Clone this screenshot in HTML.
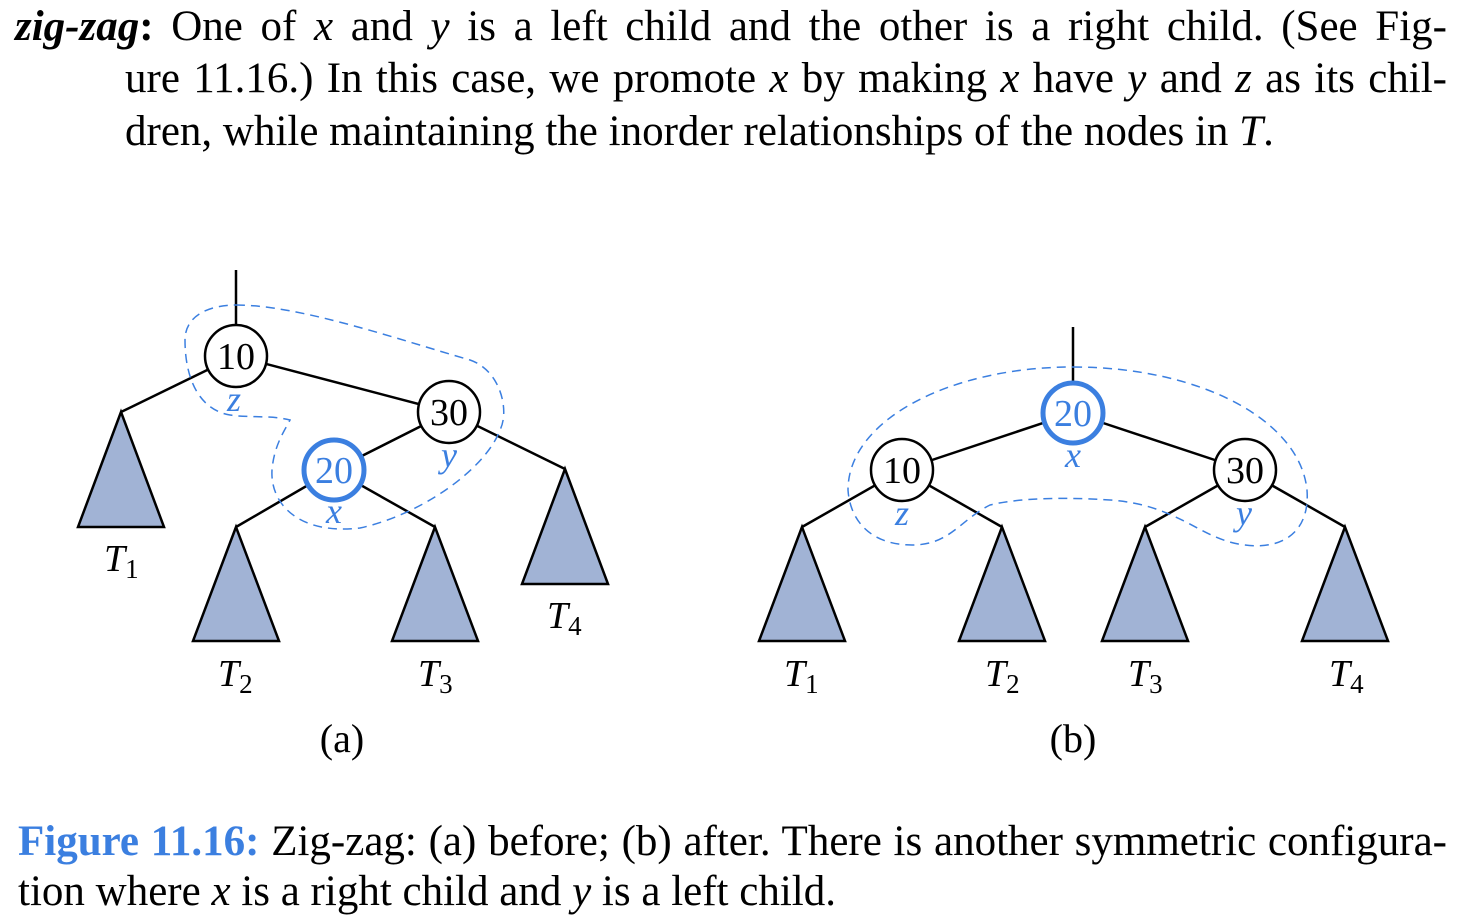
<!DOCTYPE html>
<html><head><meta charset="utf-8"><style>
html,body{margin:0;padding:0;background:#fff;}
body{width:1480px;height:914px;position:relative;overflow:hidden;font-family:"Liberation Serif",serif;color:#000;}
.l{position:absolute;font-size:43px;line-height:44px;white-space:nowrap;}
.j{text-align:justify;text-align-last:justify;white-space:normal;}
i{font-style:italic;}
.b{color:#3b7fe0;font-weight:bold;}
svg{position:absolute;left:0;top:0;}
</style></head><body>
<div class="l j" style="left:15px;top:5px;width:1432px;"><b><i>zig-zag</i>:</b> One of <i>x</i> and <i>y</i> is a left child and the other is a right child. (See Fig-</div>
<div class="l j" style="left:125px;top:57px;width:1322px;">ure 11.16.) In this case, we promote <i>x</i> by making <i>x</i> have <i>y</i> and <i>z</i> as its chil-</div>
<div class="l" style="left:125px;top:110px;">dren, while maintaining the inorder relationships of the nodes in <i>T</i>.</div>
<div class="l j" style="left:18px;top:820px;width:1429px;"><span class="b">Figure 11.16:</span> Zig-zag: (a) before; (b) after. There is another symmetric configura-</div>
<div class="l" style="left:18px;top:870px;">tion where <i>x</i> is a right child and <i>y</i> is a left child.</div>
<svg width="1480" height="914" viewBox="0 0 1480 914" font-family="Liberation Serif, serif">
<g stroke="#000" stroke-width="2.5" fill="none">
<line x1="236" y1="270" x2="236" y2="325"/>
<line x1="236" y1="356" x2="121" y2="412"/>
<line x1="236" y1="356" x2="449" y2="412"/>
<line x1="449" y1="412" x2="334" y2="470"/>
<line x1="449" y1="412" x2="565" y2="469"/>
<line x1="334" y1="470" x2="236" y2="527"/>
<line x1="334" y1="470" x2="435" y2="527"/>
<line x1="1073" y1="327" x2="1073" y2="382"/>
<line x1="1073" y1="413" x2="902" y2="470"/>
<line x1="1073" y1="413" x2="1245" y2="470"/>
<line x1="902" y1="470" x2="802" y2="527"/>
<line x1="902" y1="470" x2="1002" y2="527"/>
<line x1="1245" y1="470" x2="1145" y2="527"/>
<line x1="1245" y1="470" x2="1345" y2="527"/>
</g>
<g stroke="#000" stroke-width="2.5" fill="#a1b3d5">
<polygon points="121,412 78,527 164,527"/>
<polygon points="236,527 193,641 279,641"/>
<polygon points="435,527 392,641 478,641"/>
<polygon points="565,469 522,584 608,584"/>
<polygon points="802,527 759,641 845,641"/>
<polygon points="1002,527 959,641 1045,641"/>
<polygon points="1145,527 1102,641 1188,641"/>
<polygon points="1345,527 1302,641 1388,641"/>
</g>
<g fill="none" stroke="#3b7fe0" stroke-width="1.5" stroke-dasharray="9,6">
<path d="M236,305 C300,305 400,340 470,360 C500,370 510,410 500,430 C485,470 420,515 360,528 C300,535 270,505 272,470 C274,445 285,430 290,420 C270,415 250,418 230,415 C200,410 185,380 185,340 C185,315 210,305 236,305 Z"/>
<path d="M1073,367 C1200,367 1300,420 1307,490 C1310,530 1285,550 1245,545 C1200,540 1180,505 1110,500 C1050,496 1010,500 990,505 C960,520 950,545 912,545 C870,545 850,520 848,490 C848,420 950,367 1073,367 Z"/>
</g>
<g stroke="#000" stroke-width="2.5" fill="#fff">
<circle cx="236" cy="356" r="31"/>
<circle cx="449" cy="412" r="31"/>
<circle cx="902" cy="470" r="31"/>
<circle cx="1245" cy="470" r="31"/>
</g>
<g stroke="#3b7fe0" stroke-width="5" fill="#fff">
<circle cx="334" cy="470" r="30"/>
<circle cx="1073" cy="413" r="30"/>
</g>
<g font-size="38" text-anchor="middle">
<text x="236" y="369">10</text>
<text x="449" y="425">30</text>
<text x="334" y="483" fill="#3b7fe0">20</text>
<text x="902" y="483">10</text>
<text x="1245" y="483">30</text>
<text x="1073" y="426" fill="#3b7fe0">20</text>
</g>
<g font-size="36" text-anchor="middle" font-style="italic" fill="#3b7fe0">
<text x="234" y="411">z</text>
<text x="449" y="467">y</text>
<text x="334" y="523">x</text>
<text x="1073" y="467">x</text>
<text x="902" y="525">z</text>
<text x="1244" y="525">y</text>
</g>
<g font-size="38" font-style="italic">
<text x="104" y="571">T<tspan font-size="27" font-style="normal" dy="7">1</tspan></text>
<text x="218" y="686">T<tspan font-size="27" font-style="normal" dy="7">2</tspan></text>
<text x="418" y="686">T<tspan font-size="27" font-style="normal" dy="7">3</tspan></text>
<text x="547" y="628">T<tspan font-size="27" font-style="normal" dy="7">4</tspan></text>
<text x="784" y="686">T<tspan font-size="27" font-style="normal" dy="7">1</tspan></text>
<text x="985" y="686">T<tspan font-size="27" font-style="normal" dy="7">2</tspan></text>
<text x="1128" y="686">T<tspan font-size="27" font-style="normal" dy="7">3</tspan></text>
<text x="1329" y="686">T<tspan font-size="27" font-style="normal" dy="7">4</tspan></text>
</g>
<g font-size="40" text-anchor="middle">
<text x="342" y="752">(a)</text>
<text x="1073" y="752">(b)</text>
</g>
</svg>
</body></html>
